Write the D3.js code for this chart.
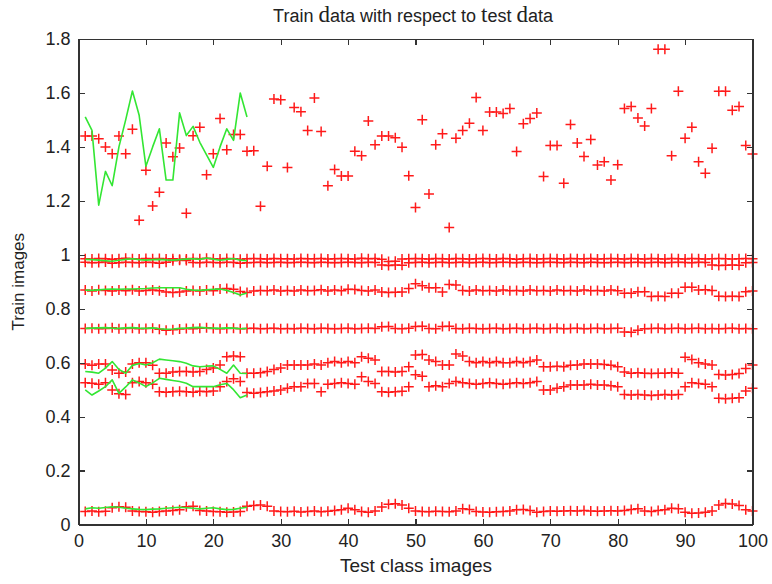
<!DOCTYPE html>
<html>
<head>
<meta charset="utf-8">
<script src="https://cdn.jsdelivr.net/npm/d3@7"></script>
<style>
  body { margin: 0; background: #fff; }
  svg { display: block; }
  .axis path, .axis line { stroke: #333; stroke-width: 1.2; shape-rendering: crispEdges; }
  .axis text { font-family: "Liberation Sans", Arial, sans-serif; font-size: 18px; fill: #222; }
  .label { font-family: "Liberation Sans", Arial, sans-serif; fill: #222; }
  .serif { font-family: "Liberation Serif", "Times New Roman", serif; }
</style>
</head>
<body>
<script>
/* Size of the picture and of the plot box */
var width = 772;
var height = 584;
var margin = {top: 39, right: 19.5, bottom: 59.5, left: 78.5};

/* Tick labels */
var xTicks = [0, 10, 20, 30, 40, 50, 60, 70, 80, 90, 100];
var yTicks = [0, 0.2, 0.4, 0.6, 0.8, 1, 1.2, 1.4, 1.6, 1.8];

/* Test class index (x) */
var testIndex = d3.range(1, 101);

/* Train data, red + markers, one value per test class */
var trainTop = [1.44, 1.44, 1.43, 1.40, 1.375, 1.44, 1.375, 1.465, 1.128, 1.313,
  1.181, 1.232, 1.414, 1.363, 1.396, 1.154, 1.441, 1.473, 1.297, 1.375,
  1.505, 1.389, 1.446, 1.446, 1.384, 1.386, 1.180, 1.328, 1.578, 1.575,
  1.324, 1.546, 1.530, 1.461, 1.581, 1.457, 1.256, 1.316, 1.292, 1.292,
  1.384, 1.367, 1.496, 1.408, 1.44, 1.44, 1.434, 1.399, 1.293, 1.175,
  1.501, 1.225, 1.408, 1.449, 1.101, 1.432, 1.461, 1.488, 1.583, 1.461,
  1.529, 1.529, 1.524, 1.542, 1.383, 1.486, 1.505, 1.526, 1.29, 1.405,
  1.405, 1.265, 1.483, 1.414, 1.364, 1.427, 1.333, 1.345, 1.277, 1.334,
  1.542, 1.550, 1.507, 1.477, 1.542, 1.762, 1.762, 1.367, 1.606, 1.432,
  1.473, 1.345, 1.302, 1.395, 1.606, 1.606, 1.536, 1.55, 1.405, 1.374];

var trainBand1 = [0.985, 0.984, 0.986, 0.985, 0.983, 0.985, 0.987, 0.985, 0.984, 0.986,
  0.985, 0.986, 0.984, 0.985, 0.983, 0.984, 0.986, 0.985, 0.987, 0.985,
  0.984, 0.986, 0.985, 0.983, 0.985, 0.986, 0.985, 0.984, 0.986, 0.985,
  0.985, 0.984, 0.986, 0.985, 0.985, 0.986, 0.984, 0.985, 0.986, 0.985,
  0.984, 0.987, 0.985, 0.986, 0.983, 0.975, 0.976, 0.984, 0.985, 0.986,
  0.985, 0.984, 0.986, 0.985, 0.984, 0.986, 0.985, 0.984, 0.985, 0.986,
  0.985, 0.984, 0.986, 0.985, 0.983, 0.985, 0.986, 0.984, 0.985, 0.986,
  0.985, 0.984, 0.986, 0.985, 0.985, 0.986, 0.984, 0.985, 0.986, 0.985,
  0.984, 0.986, 0.985, 0.984, 0.986, 0.985, 0.984, 0.986, 0.985, 0.984,
  0.986, 0.985, 0.984, 0.985, 0.986, 0.985, 0.984, 0.985, 0.986, 0.985];

var trainBand2 = [0.972, 0.970, 0.971, 0.973, 0.969, 0.970, 0.972, 0.971, 0.970, 0.972,
  0.971, 0.969, 0.972, 0.978, 0.980, 0.979, 0.971, 0.970, 0.972, 0.971,
  0.970, 0.972, 0.971, 0.969, 0.970, 0.971, 0.972, 0.970, 0.971, 0.972,
  0.970, 0.971, 0.972, 0.971, 0.970, 0.972, 0.971, 0.970, 0.971, 0.972,
  0.971, 0.970, 0.972, 0.971, 0.962, 0.960, 0.962, 0.961, 0.970, 0.971,
  0.972, 0.970, 0.971, 0.972, 0.970, 0.971, 0.972, 0.970, 0.971, 0.972,
  0.970, 0.971, 0.972, 0.971, 0.970, 0.972, 0.971, 0.970, 0.971, 0.972,
  0.971, 0.970, 0.972, 0.971, 0.970, 0.972, 0.971, 0.970, 0.971, 0.972,
  0.970, 0.971, 0.972, 0.970, 0.971, 0.972, 0.970, 0.971, 0.972, 0.971,
  0.970, 0.972, 0.971, 0.962, 0.960, 0.961, 0.962, 0.961, 0.970, 0.971];

var trainBand3 = [0.869, 0.866, 0.870, 0.868, 0.866, 0.869, 0.867, 0.870, 0.866, 0.868,
  0.869, 0.867, 0.862, 0.860, 0.862, 0.866, 0.868, 0.866, 0.869, 0.867,
  0.873, 0.875, 0.872, 0.864, 0.860, 0.866, 0.868, 0.867, 0.869, 0.866,
  0.868, 0.866, 0.869, 0.867, 0.868, 0.870, 0.866, 0.869, 0.867, 0.872,
  0.871, 0.868, 0.866, 0.869, 0.862, 0.860, 0.861, 0.862, 0.875, 0.893,
  0.885, 0.878, 0.878, 0.862, 0.890, 0.888, 0.868, 0.866, 0.869, 0.867,
  0.868, 0.866, 0.869, 0.867, 0.868, 0.866, 0.869, 0.867, 0.868, 0.866,
  0.869, 0.867, 0.868, 0.866, 0.869, 0.867, 0.868, 0.866, 0.869, 0.867,
  0.857, 0.857, 0.863, 0.863, 0.845, 0.846, 0.845, 0.857, 0.857, 0.880,
  0.880, 0.869, 0.870, 0.868, 0.846, 0.845, 0.846, 0.845, 0.863, 0.866];

var trainBand4 = [0.727, 0.728, 0.726, 0.727, 0.729, 0.726, 0.727, 0.728, 0.726, 0.727,
  0.728, 0.724, 0.720, 0.722, 0.725, 0.727, 0.726, 0.728, 0.729, 0.727,
  0.726, 0.727, 0.728, 0.726, 0.727, 0.728, 0.726, 0.727, 0.728, 0.726,
  0.727, 0.726, 0.728, 0.727, 0.726, 0.728, 0.727, 0.726, 0.727, 0.728,
  0.726, 0.727, 0.728, 0.727, 0.733, 0.734, 0.727, 0.726, 0.728, 0.734,
  0.735, 0.727, 0.726, 0.734, 0.735, 0.727, 0.726, 0.728, 0.727, 0.726,
  0.727, 0.728, 0.726, 0.727, 0.728, 0.726, 0.727, 0.728, 0.726, 0.727,
  0.728, 0.726, 0.727, 0.728, 0.726, 0.727, 0.728, 0.726, 0.727, 0.728,
  0.714, 0.713, 0.720, 0.726, 0.727, 0.728, 0.726, 0.727, 0.728, 0.726,
  0.727, 0.728, 0.726, 0.727, 0.726, 0.727, 0.728, 0.726, 0.727, 0.726];

var trainBand5 = [0.595, 0.590, 0.595, 0.595, 0.573, 0.561, 0.565, 0.595, 0.600, 0.600,
  0.590, 0.561, 0.561, 0.565, 0.567, 0.567, 0.565, 0.567, 0.575, 0.580,
  0.591, 0.622, 0.625, 0.622, 0.561, 0.561, 0.563, 0.567, 0.575, 0.580,
  0.591, 0.591, 0.591, 0.591, 0.595, 0.591, 0.600, 0.604, 0.600, 0.604,
  0.600, 0.622, 0.616, 0.610, 0.567, 0.567, 0.565, 0.567, 0.585, 0.628,
  0.630, 0.610, 0.604, 0.591, 0.591, 0.632, 0.625, 0.604, 0.600, 0.604,
  0.600, 0.604, 0.600, 0.600, 0.604, 0.600, 0.604, 0.610, 0.585, 0.585,
  0.587, 0.585, 0.590, 0.591, 0.595, 0.595, 0.595, 0.593, 0.590, 0.585,
  0.565, 0.561, 0.563, 0.561, 0.560, 0.561, 0.561, 0.563, 0.561, 0.620,
  0.612, 0.600, 0.595, 0.591, 0.556, 0.554, 0.556, 0.560, 0.578, 0.591];

var trainBand6 = [0.526, 0.524, 0.520, 0.526, 0.499, 0.485, 0.482, 0.526, 0.530, 0.526,
  0.520, 0.492, 0.490, 0.492, 0.494, 0.492, 0.490, 0.494, 0.492, 0.495,
  0.511, 0.530, 0.540, 0.530, 0.489, 0.487, 0.489, 0.492, 0.495, 0.499,
  0.505, 0.511, 0.511, 0.523, 0.523, 0.492, 0.520, 0.523, 0.526, 0.523,
  0.520, 0.548, 0.530, 0.523, 0.492, 0.490, 0.492, 0.494, 0.511, 0.555,
  0.550, 0.511, 0.514, 0.511, 0.523, 0.530, 0.526, 0.523, 0.520, 0.523,
  0.526, 0.523, 0.520, 0.523, 0.526, 0.523, 0.526, 0.530, 0.499, 0.499,
  0.505, 0.511, 0.517, 0.517, 0.517, 0.520, 0.517, 0.517, 0.514, 0.511,
  0.482, 0.480, 0.482, 0.480, 0.478, 0.480, 0.482, 0.480, 0.482, 0.511,
  0.526, 0.523, 0.520, 0.511, 0.468, 0.466, 0.468, 0.470, 0.495, 0.505];

var trainBand7 = [0.048, 0.050, 0.047, 0.049, 0.062, 0.066, 0.064, 0.050, 0.048, 0.047,
  0.045, 0.048, 0.050, 0.052, 0.055, 0.066, 0.068, 0.052, 0.050, 0.048,
  0.047, 0.045, 0.046, 0.048, 0.068, 0.070, 0.072, 0.068, 0.050, 0.048,
  0.047, 0.049, 0.046, 0.048, 0.050, 0.047, 0.049, 0.052, 0.055, 0.060,
  0.055, 0.048, 0.045, 0.050, 0.065, 0.075, 0.077, 0.072, 0.060, 0.050,
  0.048, 0.047, 0.049, 0.048, 0.047, 0.050, 0.058, 0.056, 0.048, 0.046,
  0.045, 0.047, 0.048, 0.050, 0.055, 0.056, 0.052, 0.045, 0.048, 0.050,
  0.049, 0.050, 0.051, 0.050, 0.052, 0.050, 0.049, 0.050, 0.051, 0.050,
  0.052, 0.056, 0.058, 0.050, 0.048, 0.052, 0.055, 0.060, 0.058, 0.045,
  0.042, 0.043, 0.045, 0.050, 0.072, 0.078, 0.076, 0.070, 0.055, 0.050];

/* Test data, green lines, first 25 classes only */
var testTop = [1.511, 1.461, 1.184, 1.309, 1.256, 1.40, 1.50, 1.607, 1.517, 1.328,
  1.40, 1.467, 1.277, 1.277, 1.526, 1.442, 1.476, 1.417, 1.37, 1.324,
  1.40, 1.467, 1.424, 1.60, 1.511];
var testBand1 = [0.983, 0.982, 0.980, 0.978, 0.976, 0.980, 0.983, 0.985, 0.982, 0.980,
  0.982, 0.983, 0.981, 0.980, 0.982, 0.984, 0.985, 0.983, 0.988, 0.984,
  0.980, 0.983, 0.986, 0.980, 0.978];
var testBand3 = [0.869, 0.868, 0.870, 0.872, 0.873, 0.872, 0.873, 0.873, 0.874, 0.875,
  0.877, 0.878, 0.878, 0.878, 0.878, 0.872, 0.869, 0.868, 0.870, 0.872,
  0.873, 0.868, 0.860, 0.851, 0.858];
var testBand4 = [0.727, 0.728, 0.729, 0.730, 0.728, 0.727, 0.729, 0.730, 0.728, 0.727,
  0.729, 0.726, 0.724, 0.725, 0.727, 0.728, 0.730, 0.731, 0.729, 0.728,
  0.727, 0.729, 0.728, 0.726, 0.727];
var testBand5 = [0.567, 0.565, 0.561, 0.580, 0.604, 0.575, 0.561, 0.590, 0.597, 0.591,
  0.600, 0.613, 0.610, 0.607, 0.604, 0.598, 0.588, 0.585, 0.587, 0.588,
  0.575, 0.561, 0.591, 0.561, 0.560];
var testBand6 = [0.499, 0.480, 0.495, 0.511, 0.536, 0.486, 0.510, 0.536, 0.525, 0.511,
  0.525, 0.542, 0.538, 0.534, 0.530, 0.524, 0.511, 0.511, 0.511, 0.511,
  0.518, 0.523, 0.500, 0.470, 0.480];
var testBand7 = [0.058, 0.062, 0.060, 0.063, 0.066, 0.064, 0.060, 0.058, 0.056, 0.055,
  0.057, 0.058, 0.060, 0.062, 0.064, 0.062, 0.060, 0.058, 0.060, 0.062,
  0.058, 0.055, 0.056, 0.060, 0.064];

var trainSeries = [trainTop, trainBand1, trainBand2, trainBand3, trainBand4, trainBand5, trainBand6, trainBand7];
var testSeries = [testTop, testBand1, testBand3, testBand4, testBand5, testBand6, testBand7];

var trainColour = "#ff1a1a";
var testColour = "#33e633";
var markerSize = 5;

/* Scales */
var x = d3.scaleLinear().domain([0, 100]).range([margin.left, width - margin.right]);
var y = d3.scaleLinear().domain([0, 1.8]).range([height - margin.bottom, margin.top]);

var svg = d3.select("body").append("svg")
  .attr("width", width)
  .attr("height", height);

/* Red + markers */
trainSeries.forEach(function(series) {
  svg.append("g")
    .selectAll("path")
    .data(series)
    .enter()
    .append("path")
    .attr("transform", function(d, i) {
      return "translate(" + x(testIndex[i]) + "," + y(d) + ")";
    })
    .attr("d", "M" + (-markerSize) + ",0H" + markerSize + "M0," + (-markerSize) + "V" + markerSize)
    .attr("fill", "none")
    .attr("stroke", trainColour)
    .attr("stroke-width", 1.5);
});

/* Green lines */
var line = d3.line()
  .x(function(d, i) { return x(testIndex[i]); })
  .y(function(d) { return y(d); });

testSeries.forEach(function(series) {
  svg.append("path")
    .datum(series)
    .attr("d", line)
    .attr("fill", "none")
    .attr("stroke", testColour)
    .attr("stroke-width", 1.6)
    .attr("stroke-linejoin", "round");
});

/* Axes, ticks inside on all four sides */
svg.append("g")
  .attr("class", "axis")
  .attr("transform", "translate(0," + y(0) + ")")
  .call(d3.axisBottom(x).tickValues(xTicks).tickSizeInner(-6).tickSizeOuter(0).tickPadding(10));

svg.append("g")
  .attr("class", "axis")
  .attr("transform", "translate(" + x(0) + ",0)")
  .call(d3.axisLeft(y).tickValues(yTicks).tickSizeInner(-6).tickSizeOuter(0).tickPadding(8)
    .tickFormat(d3.format("~g")));

svg.append("g")
  .attr("class", "axis")
  .attr("transform", "translate(0," + y(1.8) + ")")
  .call(d3.axisTop(x).tickValues(xTicks).tickSizeInner(-6).tickSizeOuter(0).tickFormat(""));

svg.append("g")
  .attr("class", "axis")
  .attr("transform", "translate(" + x(100) + ",0)")
  .call(d3.axisRight(y).tickValues(yTicks).tickSizeInner(-6).tickSizeOuter(0).tickFormat(""));

/* Title, mixed fonts as in the original */
var title = svg.append("text")
  .attr("class", "label")
  .attr("x", 413)
  .attr("y", 22)
  .attr("text-anchor", "middle")
  .style("font-size", "18px");
title.append("tspan").text("Train ");
title.append("tspan").attr("class", "serif").style("font-size", "23px").text("d");
title.append("tspan").text("ata with respect to ");
title.append("tspan").attr("class", "serif").style("font-size", "23px").text("t");
title.append("tspan").text("est ");
title.append("tspan").attr("class", "serif").style("font-size", "23px").text("d");
title.append("tspan").text("ata");

/* X label */
var xLabel = svg.append("text")
  .attr("class", "label")
  .attr("x", 416)
  .attr("y", 572)
  .attr("text-anchor", "middle")
  .style("font-size", "19px");
xLabel.append("tspan").text("Test ");
xLabel.append("tspan").attr("class", "serif").style("font-size", "22px").text("c");
xLabel.append("tspan").text("lass ");
xLabel.append("tspan").attr("class", "serif").style("font-size", "22px").text("i");
xLabel.append("tspan").text("mages");

/* Y label */
svg.append("text")
  .attr("class", "label")
  .attr("transform", "translate(24," + y(0.9) + ") rotate(-90)")
  .attr("text-anchor", "middle")
  .style("font-size", "17px")
  .text("Train images");
</script>
</body>
</html>
